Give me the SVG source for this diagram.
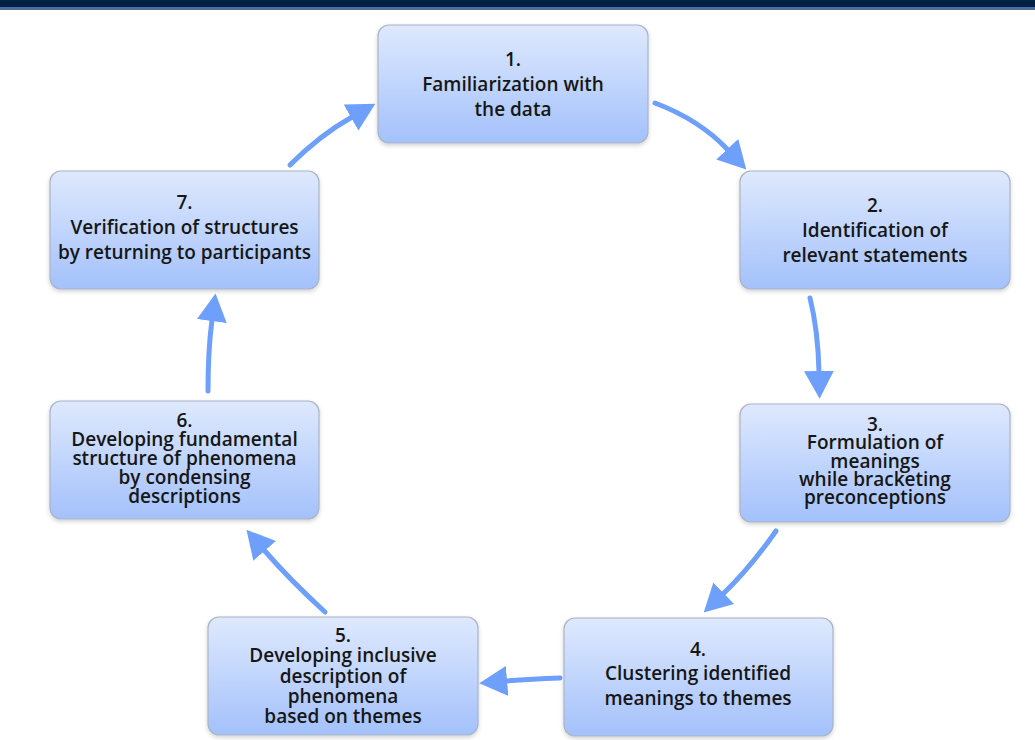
<svg xmlns="http://www.w3.org/2000/svg" width="1035" height="740" viewBox="0 0 1035 740">
<style>
.box{fill:url(#g);stroke:#aab4c6;stroke-width:1.2;filter:url(#sh)}
.t{font-family:"Open Sans","Noto Sans","Liberation Sans",sans-serif;font-size:19px;font-weight:600;fill:#161616;text-anchor:middle}
.c{fill:none;stroke:#6d9ffb;stroke-width:5;stroke-linecap:round;marker-end:url(#ah)}
</style>
<defs>
<linearGradient id="g" x1="0" y1="0" x2="0" y2="1">
<stop offset="0" stop-color="#dfe9fd"/>
<stop offset="1" stop-color="#a3c1fb"/>
</linearGradient>
<filter id="sh" x="-10%" y="-10%" width="120%" height="130%">
<feDropShadow dx="0" dy="2" stdDeviation="2" flood-color="#000" flood-opacity="0.18"/>
</filter>
<marker id="ah" markerUnits="userSpaceOnUse" markerWidth="28" markerHeight="30" viewBox="0 0 26 28" refX="1" refY="14" orient="auto">
<path d="M0,0 L26,14 L0,28 z" fill="#6d9ffb"/>
</marker>
</defs>
<rect x="0" y="0" width="1035" height="740" fill="#ffffff"/>
<rect x="0" y="0" width="1035" height="7" fill="#012244"/>
<rect x="0" y="7" width="1035" height="3" fill="#4b6f99"/>
<g id="connectors">
<path class="c" d="M655,103 Q700,120 728,150"/>
<path class="c" d="M810,298 Q818,330 819,372"/>
<path class="c" d="M776,531 Q750,568 723,594"/>
<path class="c" d="M560,678 Q530,679 506,681"/>
<path class="c" d="M325,612 Q290,580 264,550"/>
<path class="c" d="M208,391 Q208,350 212,320"/>
<path class="c" d="M290,165 Q320,135 352,117"/>
</g>
<g id="n1"><rect class="box" x="378" y="25" width="270" height="118" rx="11"/>
<text class="t" x="513" y="66">1.</text><text class="t" x="513" y="91">Familiarization with</text><text class="t" x="513" y="116">the data</text></g>
<g id="n2"><rect class="box" x="740" y="171" width="270" height="118" rx="11"/>
<text class="t" x="875" y="212">2.</text><text class="t" x="875" y="237">Identification of</text><text class="t" x="875" y="262">relevant statements</text></g>
<g id="n3"><rect class="box" x="740" y="404" width="270" height="118" rx="11"/>
<text class="t" x="875" y="431">3.</text><text class="t" x="875" y="449">Formulation of</text><text class="t" x="875" y="468">meanings</text><text class="t" x="875" y="486">while bracketing</text><text class="t" x="875" y="504">preconceptions</text></g>
<g id="n4"><rect class="box" x="564" y="618" width="269" height="118" rx="11"/>
<text class="t" x="698" y="656">4.</text><text class="t" x="698" y="680">Clustering identified</text><text class="t" x="698" y="705">meanings to themes</text></g>
<g id="n5"><rect class="box" x="208" y="617" width="270" height="118" rx="11"/>
<text class="t" x="343" y="642">5.</text><text class="t" x="343" y="662">Developing inclusive</text><text class="t" x="343" y="683">description of</text><text class="t" x="343" y="703">phenomena</text><text class="t" x="343" y="723">based on themes</text></g>
<g id="n6"><rect class="box" x="50" y="401" width="269" height="118" rx="11"/>
<text class="t" x="184.5" y="427">6.</text><text class="t" x="184.5" y="446">Developing fundamental</text><text class="t" x="184.5" y="465">structure of phenomena</text><text class="t" x="184.5" y="484">by condensing</text><text class="t" x="184.5" y="503">descriptions</text></g>
<g id="n7"><rect class="box" x="50" y="171" width="269" height="118" rx="11"/>
<text class="t" x="184.5" y="209">7.</text><text class="t" x="184.5" y="234">Verification of structures</text><text class="t" x="184.5" y="259">by returning to participants</text></g>
</svg>
